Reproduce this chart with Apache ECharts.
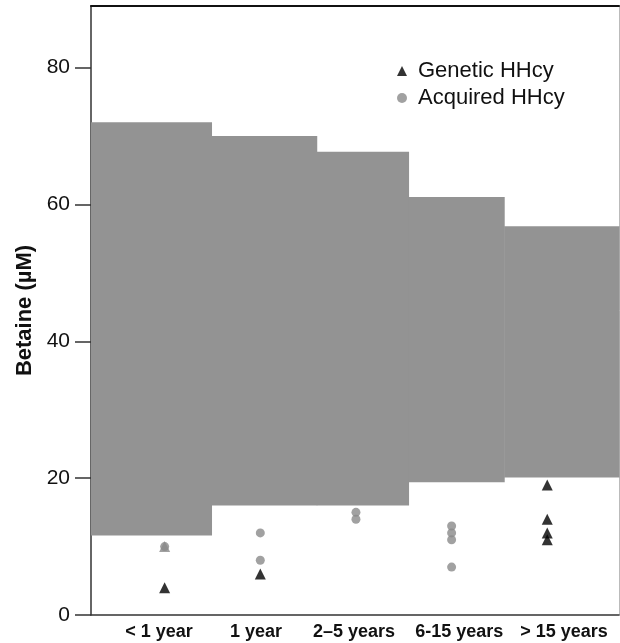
<!DOCTYPE html>
<html>
<head>
<meta charset="utf-8">
<script src="https://cdn.jsdelivr.net/npm/echarts@6/dist/echarts.min.js"></script>
<style>
  html, body { margin: 0; padding: 0; background: #fff; }
  #chart1 { width: 620px; height: 643px; }
</style>
</head>
<body>
<div id="chart1"></div>
<script>
// age groups, and where their labels sit on the x scale
var ageGroups = ['< 1 year', '1 year', '2\u20135 years', '6-15 years', '> 15 years'];
var labelPos = [0.94, 1.955, 2.98, 4.08, 5.175];
var yTicks = [0, 20, 40, 60, 80];

// reference range band: x from, x to, lower, upper
var bandFrom = [0.23, 1.49, 2.59, 3.55, 4.55];
var bandTo = [1.49, 2.59, 3.55, 4.55, 5.75];
var bandLow = [11.6, 16.0, 16.0, 19.4, 20.1];
var bandHigh = [72.0, 70.0, 67.7, 61.1, 56.8];

// patients: group index (1-based) and betaine value
var geneticGroup = [1, 1, 2, 5, 5, 5, 5];
var geneticValue = [10, 4, 6, 19, 14, 12, 11];
var acquiredGroup = [1, 2, 2, 3, 3, 4, 4, 4, 4];
var acquiredValue = [10, 12, 8, 15, 14, 13, 12, 11, 7];

var dom = document.getElementById('chart1');
var myChart = echarts.init(dom);

var bandData = bandFrom.map(function (x0, i) {
  return [x0, bandTo[i], bandLow[i], bandHigh[i]];
});

var acquiredData = acquiredGroup.map(function (g, i) {
  return [g, acquiredValue[i]];
});

// a triangle hidden under an acquired dot shows up grey
var geneticData = geneticGroup.map(function (g, i) {
  var shared = acquiredData.some(function (p) {
    return p[0] === g && p[1] === geneticValue[i];
  });
  if (shared) {
    return { value: [g, geneticValue[i]], itemStyle: { color: '#8a8a8a' } };
  }
  return [g, geneticValue[i]];
});

var option = {
  animation: false,
  grid: { left: 91, right: 1, top: 6, bottom: 28 },
  legend: {
    orient: 'vertical',
    left: 392,
    top: 55,
    itemGap: 5,
    itemWidth: 10,
    itemHeight: 10,
    textStyle: { fontFamily: 'Liberation Sans', fontSize: 22, color: '#111', padding: [0, 0, 0, 6] },
    data: [
      { name: 'Genetic HHcy', icon: 'triangle', itemStyle: { color: '#000' } },
      { name: 'Acquired HHcy', icon: 'circle', itemStyle: { color: '#8a8a8a' } }
    ]
  },
  xAxis: [
    {
      type: 'value',
      min: 0.23,
      max: 5.75,
      splitLine: { show: false },
      axisLine: { onZero: false, lineStyle: { color: '#333', width: 1.5 } },
      axisTick: { show: false },
      axisLabel: {
        customValues: labelPos,
        formatter: function (v) {
          var i = labelPos.indexOf(v);
          return i >= 0 ? ageGroups[i] : '';
        },
        fontFamily: 'Liberation Sans',
        fontWeight: 'bold',
        fontSize: 18,
        color: '#111',
        margin: 8
      }
    },
    {
      type: 'value',
      position: 'top',
      min: 0.23,
      max: 5.75,
      splitLine: { show: false },
      axisLine: { show: true, onZero: false, lineStyle: { color: '#111', width: 2 } },
      axisTick: { show: false },
      axisLabel: { show: false }
    }
  ],
  yAxis: [
    {
      type: 'value',
      min: 0,
      max: 89,
      name: 'Betaine (\u00b5M)',
      nameLocation: 'middle',
      nameGap: 54,
      nameTextStyle: { fontFamily: 'Liberation Sans', fontWeight: 'bold', fontSize: 22, color: '#111' },
      splitLine: { show: false },
      axisLine: { show: true, onZero: false, lineStyle: { color: '#333', width: 1.5 } },
      axisTick: { show: true, customValues: yTicks, length: 16, lineStyle: { color: '#333', width: 1.5 } },
      axisLabel: { customValues: yTicks, fontFamily: 'Liberation Sans', fontSize: 21, color: '#111', margin: 21 }
    },
    {
      type: 'value',
      position: 'right',
      min: 0,
      max: 89,
      splitLine: { show: false },
      axisLine: { show: true, onZero: false, lineStyle: { color: '#bbb', width: 1 } },
      axisTick: { show: false },
      axisLabel: { show: false }
    }
  ],
  series: [
    {
      type: 'custom',
      name: 'range',
      silent: true,
      data: bandData,
      encode: { x: [0, 1], y: [2, 3] },
      z: 1,
      renderItem: function (params, api) {
        var p0 = api.coord([api.value(0), api.value(3)]);
        var p1 = api.coord([api.value(1), api.value(2)]);
        return {
          type: 'rect',
          shape: { x: p0[0], y: p0[1], width: p1[0] - p0[0] + 0.5, height: p1[1] - p0[1] },
          style: { fill: '#939393' }
        };
      }
    },
    {
      type: 'scatter',
      name: 'Genetic HHcy',
      symbol: 'triangle',
      symbolSize: 11,
      itemStyle: { color: '#000' },
      z: 3,
      data: geneticData
    },
    {
      type: 'scatter',
      name: 'Acquired HHcy',
      symbol: 'circle',
      symbolSize: 9,
      itemStyle: { color: '#8a8a8a' },
      z: 4,
      data: acquiredData
    }
  ]
};

myChart.setOption(option);
</script>
</body>
</html>
